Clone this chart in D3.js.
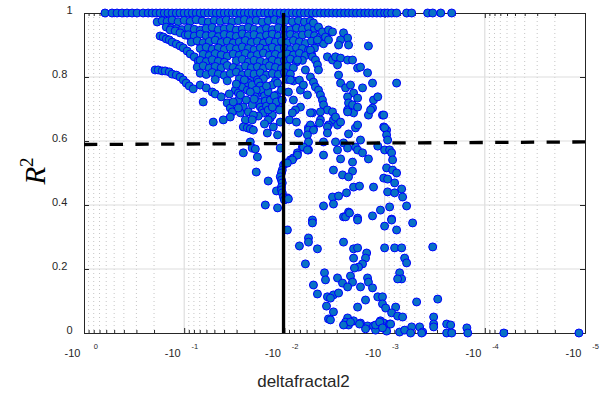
<!DOCTYPE html>
<html>
<head>
<meta charset="utf-8">
<script src="https://cdn.jsdelivr.net/npm/d3@7"></script>
<style>
  html, body { margin: 0; padding: 0; background: #fff; }
  svg { display: block; font-family: "Liberation Sans", Arial, sans-serif; }
</style>
</head>
<body>
<svg id="chart" width="605" height="395"></svg>
<script>
// ---- data: [deltafractal2, R^2] ----

// runs that reach R^2 = 1
const deltaAtOne = [
  -0.617,-0.525,-0.468,-0.417,-0.372,-0.331,-0.295,-0.257,-0.229,-0.209,-0.191,-0.174,-0.158,-0.145,-0.132,-0.120,-0.110,-0.100,
  -0.0912,-0.0832,-0.0759,-0.0692,-0.0631,-0.0575,-0.0525,-0.0479,-0.0437,-0.0398,-0.0363,-0.0331,-0.0302,-0.0275,-0.0251,-0.0229,
  -0.0209,-0.0191,-0.0174,-0.0158,-0.0145,-0.0132,-0.0120,-0.0110,-0.0100,
  -0.00912,-0.00832,-0.00759,-0.00692,-0.00631,-0.00575,-0.00525,-0.00479,-0.00437,-0.00398,-0.00363,-0.00331,-0.00302,-0.00275,
  -0.00251,-0.00229,-0.00209,-0.00191,-0.00174,-0.00158,-0.00145,-0.00132,-0.00120,-0.00110,-0.00100,
  -0.000933,-0.000851,-0.000759,-0.000603,-0.000537,-0.000372,-0.000331,-0.000275,-0.000214
];

const upperBands = [
  [-0.186,0.972],[-0.166,0.976],[-0.148,0.974],[-0.132,0.978],[-0.115,0.973],[-0.100,0.977],[-0.0871,0.974],[-0.0759,0.979],
  [-0.0661,0.975],[-0.0575,0.972],[-0.0501,0.977],[-0.0437,0.974],[-0.0380,0.978],[-0.0331,0.973],[-0.0288,0.976],[-0.0251,0.979],
  [-0.0219,0.974],[-0.0191,0.977],[-0.0166,0.972],[-0.0145,0.976],[-0.0126,0.979],[-0.0110,0.974],[-0.00955,0.977],[-0.00832,0.973],
  [-0.00724,0.976],[-0.00631,0.972],[-0.00550,0.975],[-0.151,0.956],[-0.135,0.953],
  [-0.120,0.951],[-0.105,0.948],[-0.0912,0.953],[-0.0794,0.949],[-0.0692,0.946],[-0.0603,0.952],[-0.0525,0.955],[-0.0457,0.948],
  [-0.0398,0.951],[-0.0347,0.954],[-0.0302,0.947],[-0.0263,0.950],[-0.0229,0.955],[-0.0200,0.949],[-0.0174,0.946],[-0.0151,0.952],
  [-0.0132,0.948],[-0.0115,0.954],[-0.0100,0.950],[-0.00871,0.947],[-0.00759,0.953],[-0.00661,0.949],[-0.00575,0.955],[-0.00501,0.951]
];

const leftCurves = [
  [-0.174,0.928],[-0.162,0.925],[-0.151,0.919],[-0.141,0.916],[-0.132,0.909],[-0.120,0.903],[-0.110,0.897],[-0.102,0.891],
  [-0.0933,0.881],[-0.0871,0.872],[-0.0794,0.863],[-0.0724,0.850],
  [-0.138,0.947],[-0.123,0.944],[-0.110,0.938],[-0.0977,0.931],[-0.0871,0.925],[-0.0776,0.916],[-0.0692,0.906],[-0.0617,0.897],
  [-0.0550,0.884],[-0.0490,0.875],
  [-0.195,0.822],[-0.182,0.822],[-0.166,0.819],[-0.155,0.819],[-0.141,0.816],[-0.132,0.809],[-0.120,0.806],[-0.110,0.800],
  [-0.102,0.791],[-0.0955,0.781],[-0.0891,0.772],[-0.0813,0.763]
];

const denseCore = [
  [-0.0912,0.932],[-0.0794,0.928],[-0.0692,0.934],[-0.0603,0.929],[-0.0525,0.931],[-0.0457,0.926],[-0.0398,0.933],[-0.0347,0.930],
  [-0.0302,0.927],[-0.0263,0.935],[-0.0229,0.929],[-0.0200,0.932],[-0.0174,0.926],[-0.0151,0.931],[-0.0132,0.934],[-0.0115,0.928],
  [-0.0100,0.930],[-0.00871,0.933],[-0.00759,0.927],[-0.00661,0.931],[-0.00575,0.935],[-0.00501,0.929],[-0.00437,0.926],[-0.00380,0.932],
  [-0.0851,0.909],[-0.0741,0.913],[-0.0646,0.907],[-0.0562,0.911],[-0.0490,0.915],[-0.0427,0.908],[-0.0372,0.912],[-0.0324,0.906],
  [-0.0282,0.910],[-0.0245,0.914],[-0.0214,0.908],[-0.0186,0.911],[-0.0162,0.906],[-0.0141,0.913],[-0.0123,0.909],[-0.0107,0.912],
  [-0.00933,0.907],[-0.00813,0.914],[-0.00708,0.910],[-0.00617,0.905],[-0.00537,0.912],[-0.00468,0.908],[-0.00407,0.904],
  [-0.0692,0.889],[-0.0603,0.893],[-0.0525,0.887],[-0.0457,0.891],[-0.0398,0.886],[-0.0347,0.892],[-0.0302,0.888],[-0.0263,0.894],
  [-0.0229,0.889],[-0.0200,0.885],[-0.0174,0.891],[-0.0151,0.887],[-0.0132,0.893],[-0.0115,0.888],[-0.0100,0.890],[-0.00871,0.886],
  [-0.00759,0.892],[-0.00661,0.889],[-0.00575,0.884],[-0.00501,0.890],
  [-0.0646,0.871],[-0.0562,0.867],[-0.0490,0.873],[-0.0427,0.869],[-0.0372,0.865],[-0.0324,0.872],[-0.0282,0.868],[-0.0245,0.874],
  [-0.0214,0.866],[-0.0186,0.870],[-0.0162,0.875],[-0.0141,0.868],[-0.0123,0.871],[-0.0107,0.866],[-0.00933,0.872],[-0.00813,0.869],
  [-0.00708,0.874],[-0.00617,0.867],[-0.00537,0.871],
  [-0.0692,0.852],[-0.0603,0.848],[-0.0525,0.854],[-0.0457,0.849],[-0.0398,0.846],[-0.0302,0.851],[-0.0263,0.855],[-0.0229,0.847],
  [-0.0200,0.852],[-0.0174,0.849],[-0.0151,0.845],[-0.0132,0.853],[-0.0115,0.848],[-0.0100,0.851],[-0.00871,0.856],[-0.00759,0.847],
  [-0.00661,0.852],
  [-0.0741,0.831],[-0.0646,0.835],[-0.0562,0.828],[-0.0490,0.833],[-0.0427,0.829],[-0.0372,0.836],[-0.0324,0.830],[-0.0282,0.826],
  [-0.0245,0.834],[-0.0214,0.829],[-0.0186,0.832],[-0.0162,0.827],[-0.0141,0.835],[-0.0123,0.830],[-0.0107,0.826],[-0.00933,0.833],
  [-0.00813,0.829],
  [-0.0692,0.812],[-0.0603,0.808],[-0.0525,0.814],[-0.0457,0.809],[-0.0398,0.805],[-0.0347,0.811],[-0.0302,0.815],[-0.0263,0.807],
  [-0.0229,0.812],[-0.0200,0.809],[-0.0174,0.813],[-0.0151,0.806],[-0.0132,0.811],[-0.0115,0.808],[-0.0100,0.814],[-0.00871,0.809],
  [-0.0490,0.792],[-0.0372,0.788],[-0.0282,0.794],[-0.0245,0.789],[-0.0214,0.786],[-0.0186,0.791],[-0.0162,0.795],[-0.0123,0.787],
  [-0.00933,0.792],[-0.00813,0.788],[-0.00708,0.790]
];

const lowerLeft = [
  [-0.0646,0.722],[-0.0692,0.775],[-0.0603,0.766],[-0.0525,0.753],[-0.0490,0.747],[-0.0427,0.738],[-0.0372,0.719],[-0.0347,0.703],
  [-0.0331,0.691],[-0.0347,0.675],[-0.0309,0.759],[-0.0288,0.750],[-0.0263,0.769],[-0.0234,0.759],[-0.0229,0.781],[-0.0209,0.775],
  [-0.0288,0.728],[-0.0275,0.744],[-0.0324,0.722],[-0.0186,0.750],[-0.0182,0.722],[-0.0174,0.706],[-0.0166,0.697],[-0.0162,0.688],
  [-0.0138,0.672],[-0.0132,0.681],[-0.0110,0.659],[-0.0182,0.784],[-0.0174,0.772],[-0.0166,0.759],[-0.0158,0.741],[-0.0155,0.725],
  [-0.0151,0.709],[-0.0145,0.697],[-0.0191,0.759],[-0.0195,0.738],[-0.0138,0.728],[-0.0145,0.753],[-0.0132,0.775],[-0.0120,0.744],
  [-0.0115,0.713],
  [-0.0251,0.791],[-0.0219,0.753],[-0.0240,0.728],[-0.0257,0.706],[-0.0275,0.688],[-0.0229,0.691],[-0.0209,0.713],[-0.0200,0.731],
  [-0.0151,0.772],[-0.0126,0.741],[-0.0120,0.722],[-0.0112,0.697],[-0.0132,0.706],[-0.0145,0.666],[-0.0158,0.653],[-0.0182,0.678],
  [-0.0204,0.681],[-0.0245,0.666],[-0.0302,0.778],[-0.0355,0.747],[-0.0105,0.728],[-0.0107,0.759],[-0.0117,0.781],[-0.0288,0.703],
  [-0.0513,0.659],[-0.0407,0.666],[-0.0257,0.644],[-0.0234,0.641],[-0.0219,0.638],[-0.0204,0.634],[-0.0209,0.666],[-0.0148,0.625],
  [-0.0129,0.644],[-0.0117,0.619],[-0.0110,0.578],[-0.0219,0.597],[-0.0209,0.578],[-0.0195,0.575],[-0.0186,0.550],[-0.0257,0.563],
  [-0.0191,0.503],[-0.0145,0.475],[-0.0120,0.444],[-0.0155,0.400],[-0.0117,0.391]
];

const nearCutoff = [
  [-0.0102,0.525],[-0.0105,0.509],[-0.0107,0.500],[-0.0110,0.488],[-0.0107,0.478],[-0.0105,0.469],[-0.0107,0.456],[-0.0107,0.447],
  [-0.0105,0.438],[-0.0102,0.425],[-0.0100,0.416],[-0.00933,0.422],[-0.00912,0.419],[-0.00977,0.531],[-0.00871,0.541],[-0.00813,0.547],
  [-0.00741,0.563],[-0.00661,0.581],[-0.00575,0.641],[-0.00513,0.638],[-0.00575,0.572],[-0.00933,0.322],[-0.00575,0.297],
  [-0.00912,0.753],[-0.00891,0.666],[-0.00759,0.659]
];

const rightUpper = [
  [-0.00513,0.969],[-0.00457,0.956],[-0.00417,0.941],[-0.00389,0.925],[-0.00363,0.947],[-0.00331,0.941],[-0.00468,0.916],[-0.00363,0.916],
  [-0.00257,0.938],[-0.00234,0.922],[-0.00229,0.900],[-0.00275,0.916],[-0.00288,0.900],[-0.00145,0.897],[-0.00550,0.884],[-0.00525,0.863],
  [-0.00490,0.853],[-0.00468,0.838],[-0.00457,0.822],[-0.00550,0.800],[-0.00513,0.784],[-0.00490,0.769],[-0.00457,0.759],[-0.00437,0.744],
  [-0.00417,0.728],[-0.00407,0.713],[-0.00372,0.697],[-0.00372,0.863],[-0.00331,0.853],[-0.00309,0.863],[-0.00275,0.859],[-0.00234,0.853],
  [-0.00209,0.853],[-0.00186,0.828],[-0.00174,0.831],[-0.00148,0.813],[-0.00132,0.781],[-0.000759,0.781],[-0.00295,0.838],[-0.00288,0.806],
  [-0.00275,0.781],[-0.00245,0.766],[-0.00219,0.775],[-0.00204,0.750],[-0.00186,0.734],[-0.00166,0.766],[-0.00234,0.738],[-0.00229,0.719],
  [-0.00234,0.697],[-0.00209,0.713],[-0.00204,0.688],[-0.00186,0.706],[-0.00129,0.728],[-0.00117,0.738],[-0.00132,0.703],[-0.00105,0.681],
  [-0.00102,0.644],[-0.00324,0.666],[-0.00295,0.650],[-0.00363,0.650],[-0.00437,0.666],[-0.00525,0.688],[-0.00692,0.706],[-0.00776,0.697],
  [-0.00832,0.688],[-0.00871,0.791],[-0.00813,0.728],[-0.00741,0.853],[-0.00692,0.759],[-0.00617,0.822],[-0.00646,0.775],[-0.00589,0.744]
];

const midScatter = [
  [-0.00550,0.688],[-0.00437,0.691],[-0.00331,0.691],[-0.00309,0.675],[-0.00234,0.691],[-0.00145,0.681],[-0.00138,0.697],[-0.00102,0.681],
  [-0.00275,0.659],[-0.00229,0.622],[-0.00195,0.641],[-0.00186,0.650],[-0.00372,0.644],[-0.00447,0.656],[-0.00550,0.650],[-0.00575,0.634],
  [-0.00513,0.634],[-0.00589,0.619],[-0.00724,0.625],[-0.00372,0.625],[-0.00407,0.597],[-0.00575,0.597],[-0.00646,0.581],[-0.00589,0.572],
  [-0.00741,0.556],[-0.00832,0.541],[-0.00933,0.531],[-0.00309,0.597],[-0.00257,0.594],[-0.00234,0.578],[-0.00195,0.581],[-0.00186,0.572],
  [-0.00174,0.603],[-0.00295,0.572],[-0.00407,0.556],[-0.00275,0.544],[-0.00209,0.534],[-0.00166,0.563],[-0.00145,0.544],[-0.00117,0.584],
  [-0.00324,0.509],[-0.00209,0.506],[-0.00263,0.494],[-0.00229,0.488],[-0.000955,0.634],[-0.00100,0.641],[-0.000955,0.619],[-0.000933,0.603],
  [-0.00100,0.572],[-0.000891,0.572],[-0.000851,0.563],[-0.000832,0.541],[-0.000955,0.516],[-0.000832,0.509],[-0.000759,0.500],[-0.00102,0.484],
  [-0.000933,0.481],[-0.000794,0.469],[-0.00204,0.456],[-0.00178,0.459],[-0.00129,0.456],[-0.000676,0.450],[-0.000933,0.441],[-0.000794,0.438],
  [-0.000661,0.425],[-0.00331,0.425],[-0.00288,0.428],[-0.00240,0.438],[-0.00407,0.397],[-0.00324,0.403],[-0.000891,0.394],[-0.000603,0.397],
  [-0.00110,0.384],[-0.00229,0.378],[-0.00257,0.363],[-0.00186,0.359],[-0.00132,0.366],[-0.000851,0.356],[-0.00525,0.353]
];

const lowScatter = [
  [-0.00525,0.344],[-0.00245,0.363],[-0.00224,0.375],[-0.00186,0.353],[-0.000851,0.353],[-0.00100,0.334],[-0.000759,0.322],[-0.000525,0.344],
  [-0.00708,0.272],[-0.00575,0.284],[-0.00468,0.263],[-0.00257,0.284],[-0.00617,0.216],[-0.00204,0.263],[-0.00186,0.266],[-0.00151,0.250],
  [-0.00155,0.234],[-0.00204,0.234],[-0.00166,0.216],[-0.00182,0.206],[-0.00200,0.203],[-0.00100,0.266],[-0.000794,0.266],[-0.000676,0.266],
  [-0.000631,0.234],[-0.000603,0.219],[-0.000331,0.269],[-0.00398,0.188],[-0.00389,0.166],[-0.00295,0.172],[-0.00263,0.156],[-0.00219,0.178],
  [-0.00209,0.159],[-0.00234,0.144],[-0.00174,0.144],[-0.00148,0.172],[-0.00145,0.159],[-0.00132,0.141],[-0.000708,0.188],[-0.000676,0.169],
  [-0.000741,0.169],[-0.00513,0.150],[-0.00468,0.122],[-0.00372,0.113],[-0.00324,0.119],[-0.00288,0.125],[-0.00347,0.109],[-0.00117,0.113],
  [-0.00105,0.113],[-0.00105,0.091],[-0.000977,0.078],[-0.000776,0.081],[-0.000851,0.063],[-0.000741,0.053],[-0.000661,0.050],[-0.000479,0.097],
  [-0.000295,0.106],[-0.000324,0.050],[-0.000324,0.028],[-0.00380,0.084],[-0.00186,0.081],[-0.00324,0.066],[-0.00363,0.044],[-0.00347,0.041],
  [-0.00234,0.047],[-0.00245,0.034],[-0.00229,0.025],[-0.00204,0.038],[-0.00174,0.031],[-0.00148,0.022],[-0.00129,0.022],[-0.00110,0.038],
  [-0.00102,0.031],[-0.00100,0.019],[-0.000891,0.028],[-0.00155,0.013],[-0.00123,0.009],[-0.000955,0.006],[-0.000708,0.003],[-0.000631,0.009],
  [-0.000537,0.019],[-0.000447,0.019],[-0.000417,0.003],[-0.000324,0.019],[-0.000240,0.028],
  [-0.00155,0.103],[-0.00257,0.025],[-0.00219,0.034],[-0.00178,0.028],[-0.00123,0.025],[-0.00112,0.034],[-0.00105,0.016],[-0.000871,0.028],
  [-0.000550,0.000],[-0.000427,0.000],[-0.000219,0.025],[-0.000240,0.000],[-0.000214,0.000],[-0.000151,0.016],[-0.000148,0.000],
  [-0.0000646,0.000],[-0.0000115,0.000]
];

// reference lines
const cutoffDelta = -0.0102;
const fitLine = [[-1, 0.589], [-0.00001, 0.597]];

// axis ticks and labels
const xMajor = [-1, -0.1, -0.01, -0.001, -0.0001, -0.00001];
const xExponents = ["0", "-1", "-2", "-3", "-4", "-5"];
const yTicks = [0, 0.2, 0.4, 0.6, 0.8, 1];
const yTickLabels = ["0", "0.2", "0.4", "0.6", "0.8", "1"];

// ---- drawing ----
const svg = d3.select("#chart");
const box = { l: 84, r: 585, t: 13, b: 333 };
const x = d3.scaleLog().domain([-1, -0.00001]).range([box.l, box.r]);
const y = d3.scaleLinear().domain([0, 1]).range([box.b, box.t]);
const ink = "#262626";

// minor log positions inside every decade
const xMinor = [];
xMajor.slice(0, -1).forEach(m => { for (let j = 2; j <= 9; j++) xMinor.push(j * m / 10); });

// grid
const grid = svg.append("g");
grid.selectAll("line.xminor").data(xMinor).join("line").attr("class", "xminor")
  .attr("x1", d => x(d)).attr("x2", d => x(d)).attr("y1", box.t).attr("y2", box.b)
  .attr("stroke", "#c6c6c6").attr("stroke-width", 1).attr("stroke-dasharray", "1,3");
grid.selectAll("line.xmajor").data(xMajor.slice(1, -1)).join("line").attr("class", "xmajor")
  .attr("x1", d => x(d)).attr("x2", d => x(d)).attr("y1", box.t).attr("y2", box.b)
  .attr("stroke", "#dedede").attr("stroke-width", 1.2);
grid.selectAll("line.ymajor").data(yTicks.slice(1, -1)).join("line").attr("class", "ymajor")
  .attr("x1", box.l).attr("x2", box.r).attr("y1", d => y(d)).attr("y2", d => y(d))
  .attr("stroke", "#dedede").attr("stroke-width", 1.2);

// axes (ticks point inward, box on all sides)
function plain(g) {
  g.select(".domain").attr("stroke", ink).attr("stroke-width", 1);
  g.selectAll(".tick line").attr("stroke", ink).attr("stroke-width", 1);
  g.selectAll(".tick text").remove();
}
const noLabel = () => "";
svg.append("g").attr("transform", `translate(0,${box.b})`)
  .call(d3.axisBottom(x).tickValues(xMajor).tickSize(-5).tickSizeOuter(0).tickFormat(noLabel)).call(plain);
svg.append("g").attr("transform", `translate(0,${box.b})`)
  .call(d3.axisBottom(x).tickValues(xMinor).tickSize(-3).tickSizeOuter(0).tickFormat(noLabel)).call(plain);
svg.append("g").attr("transform", `translate(0,${box.t})`)
  .call(d3.axisTop(x).tickValues(xMajor).tickSize(-5).tickSizeOuter(0).tickFormat(noLabel)).call(plain);
svg.append("g").attr("transform", `translate(0,${box.t})`)
  .call(d3.axisTop(x).tickValues(xMinor).tickSize(-3).tickSizeOuter(0).tickFormat(noLabel)).call(plain);
svg.append("g").attr("transform", `translate(${box.l},0)`)
  .call(d3.axisLeft(y).tickValues(yTicks).tickSize(-5).tickSizeOuter(0).tickFormat(noLabel)).call(plain);
svg.append("g").attr("transform", `translate(${box.r},0)`)
  .call(d3.axisRight(y).tickValues(yTicks).tickSize(-5).tickSizeOuter(0).tickFormat(noLabel)).call(plain);

// scatter
const points = [
  ...deltaAtOne.map(d => [d, 1]),
  ...upperBands, ...leftCurves, ...denseCore, ...lowerLeft,
  ...nearCutoff, ...rightUpper, ...midScatter, ...lowScatter
];
svg.append("g").selectAll("circle").data(points).join("circle")
  .attr("cx", d => x(d[0])).attr("cy", d => y(d[1])).attr("r", 4)
  .attr("fill", "#0872c4").attr("stroke", "#0000ff").attr("stroke-width", 1);

// cutoff and fitted threshold lines
svg.append("line")
  .attr("x1", x(cutoffDelta)).attr("x2", x(cutoffDelta)).attr("y1", y(0)).attr("y2", y(1))
  .attr("stroke", "#000").attr("stroke-width", 3.3);
svg.append("path")
  .attr("d", d3.line().x(d => x(d[0])).y(d => y(d[1]))(fitLine))
  .attr("fill", "none").attr("stroke", "#000").attr("stroke-width", 3.3)
  .attr("stroke-dasharray", "13.3,12.4");

// tick labels
const yl = svg.append("g").attr("fill", ink).attr("font-size", 11);
yl.selectAll("text").data(yTicks).join("text")
  .attr("x", (d, i) => yTickLabels[i].includes(".") ? 67.3 : 72.5)
  .attr("y", d => y(d) + 0.5)
  .attr("text-anchor", "end")
  .text((d, i) => yTickLabels[i]);

const xl = svg.append("g").attr("fill", ink);
xl.selectAll("text.base").data(xMajor).join("text").attr("class", "base")
  .attr("x", d => x(d) - 3.5).attr("y", 357).attr("text-anchor", "end")
  .attr("font-size", 11).text("-10");
xl.selectAll("text.exp").data(xMajor).join("text").attr("class", "exp")
  .attr("x", d => x(d) + 14).attr("y", 349).attr("text-anchor", "end")
  .attr("font-size", 7.5).text((d, i) => xExponents[i]);

// axis titles
svg.append("text").attr("x", 303.5).attr("y", 387).attr("text-anchor", "middle")
  .attr("font-size", 17).attr("fill", ink).text("deltafractal2");

const yt = svg.append("text")
  .attr("transform", "translate(45,171) rotate(-90)")
  .attr("text-anchor", "middle")
  .attr("font-family", "'Liberation Serif', 'Times New Roman', serif")
  .attr("font-style", "italic").attr("font-size", 29).attr("fill", "#000");
yt.append("tspan").text("R");
yt.append("tspan").attr("font-style", "normal").attr("font-size", 19).attr("dy", -12).text("2");
</script>
</body>
</html>
